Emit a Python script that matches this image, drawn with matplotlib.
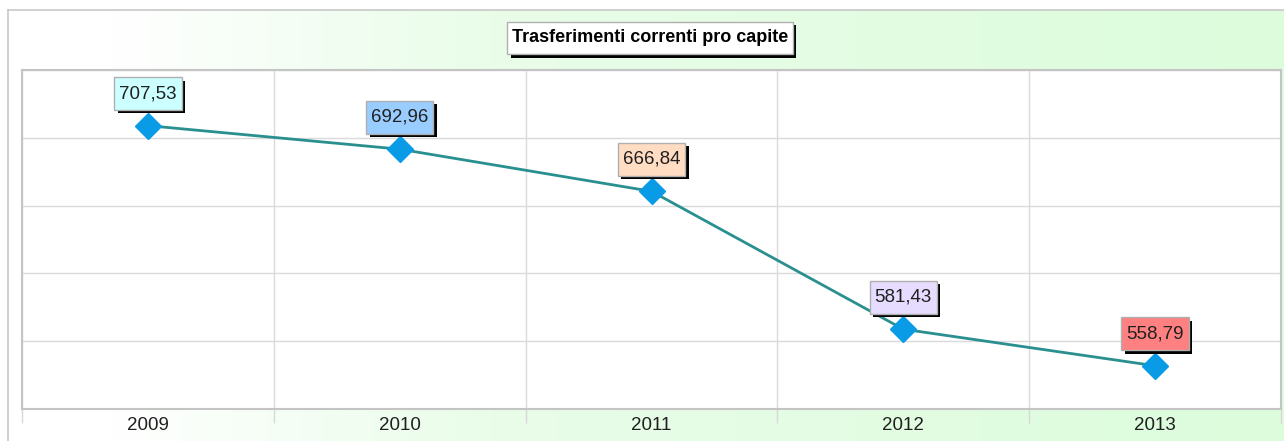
import numpy as np
import matplotlib
matplotlib.use("Agg")
import matplotlib.pyplot as plt
from matplotlib import patheffects as pe
from matplotlib.path import Path
from matplotlib.colors import LinearSegmentedColormap

years = ["2009", "2010", "2011", "2012", "2013"]
values = [707.53, 692.96, 666.84, 581.43, 558.79]
labels = ["707,53", "692,96", "666,84", "581,43", "558,79"]
box_colors = ["#ccffff", "#99ccff", "#ffdcc2", "#e6dcff", "#ff8080"]
title = "Trasferimenti correnti pro capite"

plt.rcParams['font.family'] = ['Liberation Sans', 'DejaVu Sans']


def tallbox(x0, y0, width, height, mutation_size, padx=0.26, pady=0.42):
    # rectangle with more padding top/bottom than left/right
    px, py = padx * mutation_size, pady * mutation_size
    x0, y0 = x0 - px, y0 - py
    x1, y1 = x0 + width + 2 * px, y0 + height + 2 * py
    return Path([(x0, y0), (x1, y0), (x1, y1), (x0, y1), (x0, y0)], closed=True)


W, H = 1284, 441
fig = plt.figure(figsize=(W / 100, H / 100), dpi=100)

# background: outer frame with white -> light green gradient
bg = fig.add_axes([8 / W, 0, 1 - 8 / W, 1 - 10 / H])
grad = np.linspace(0, 1, 256).reshape(1, -1)
cmap = LinearSegmentedColormap.from_list(
    "bg", [(0, "#ffffff"), (0.08, "#ffffff"), (0.38, "#e9fde9"), (1, "#dcfcdc")])
bg.imshow(grad, aspect="auto", cmap=cmap, extent=[0, 1, 0, 1])
bg.set_xticks([])
bg.set_yticks([])
for s in ["right", "bottom"]:
    bg.spines[s].set_visible(False)
for s in ["left", "top"]:
    bg.spines[s].set_color("#c8c8c8")
    bg.spines[s].set_linewidth(1.2)

ax = fig.add_axes([22 / W, 1 - 409 / H, (1281 - 22) / W, (409 - 70) / H])
ax.set_facecolor("white")
x = np.arange(len(years))
ax.plot(x, values, color="#2a8f8f", lw=2, zorder=3)
ax.plot(x, values, ls="none", marker="D", ms=13, color="#0a9be6", zorder=4)

ax.set_xlim(-0.5, len(years) - 0.5)
ax.set_ylim(532, 742)
ax.set_yticks(np.linspace(532, 742, 6))
ax.set_yticklabels([])
ax.tick_params(axis="y", length=0)
ax.set_xticks(np.arange(len(years) + 1) - 0.5)
ax.set_xticklabels([])
ax.tick_params(axis="x", which="major", length=10, color="#d8d8d8", width=1)
ax.set_xticks(x, minor=True)
ax.set_xticklabels(years, minor=True, fontsize=13.5, color="#202020")
ax.tick_params(axis="x", which="minor", length=0, pad=6)
ax.grid(True, which="major", color="#dadada", lw=1)
ax.set_axisbelow(True)
for s in ax.spines.values():
    s.set_color("#c4c4c4")
    s.set_linewidth(1.5)

shadow = [pe.SimplePatchShadow(offset=(2.5, -2.5), shadow_rgbFace="black", alpha=1), pe.Normal()]
for xi, v, lab, c in zip(x, values, labels, box_colors):
    t = ax.annotate(lab, (xi, v), xytext=(0, 32), textcoords="offset pixels",
                    ha="center", va="center", fontsize=13.5, color="#202020", zorder=6,
                    bbox=dict(boxstyle=tallbox, fc=c, ec="#b0b0b0", lw=1))
    t.get_bbox_patch().set_path_effects(shadow)

tt = fig.text(650 / W, 1 - 38 / H, title, ha="center", va="center", fontsize=13,
              fontweight="bold", color="black",
              bbox=dict(boxstyle=tallbox, fc="white", ec="#b0b0b0", lw=1))
tt.get_bbox_patch().set_path_effects(shadow)

fig.savefig("out.png", dpi=100)
